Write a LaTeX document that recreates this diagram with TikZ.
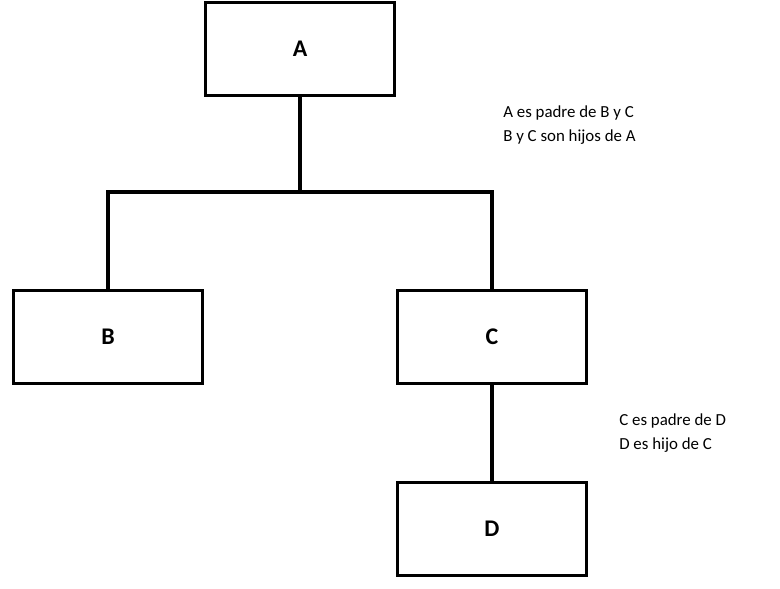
\documentclass[tikz,border=0pt]{standalone}
\usepackage{fontspec}
\setmainfont{Carlito}
\usetikzlibrary{positioning}

\begin{document}
\begin{tikzpicture}[
    x=0.025cm, y=-0.025cm,
    box/.style={draw, line width=2.1pt, minimum width=4.72cm, minimum height=2.32cm,
                font=\fontsize{17}{20}\selectfont\bfseries, inner sep=0pt},
    note/.style={font=\fontsize{12}{17}\selectfont, align=left, anchor=west, inner sep=0pt}
  ]
  \useasboundingbox (0,0) rectangle (780,588);
  % --- Nodes ---
  \node[box] (a) at (300,49) {A};
  \node[box] (b) at (108,337) {B};
  \node[box] (c) at (492,337) {C};
  \node[box] (d) at (492,529) {D};
  % --- Connectors ---
  \coordinate (j) at (300,192);
  \draw[line width=2.4pt] (a.south) -- (j);
  \draw[line width=2.4pt] (b.north) -- (b.north |- j) -- (c.north |- j) -- (c.north);
  \draw[line width=2.4pt] (c.south) -- (d.north);
  % --- Notes ---
  \node[note] (n1) at (503,125) {A es padre de B y C\\B y C son hijos de A};
  \node[note] (n2) at (619,433) {C es padre de D\\D es hijo de C};
\end{tikzpicture}
\end{document}
